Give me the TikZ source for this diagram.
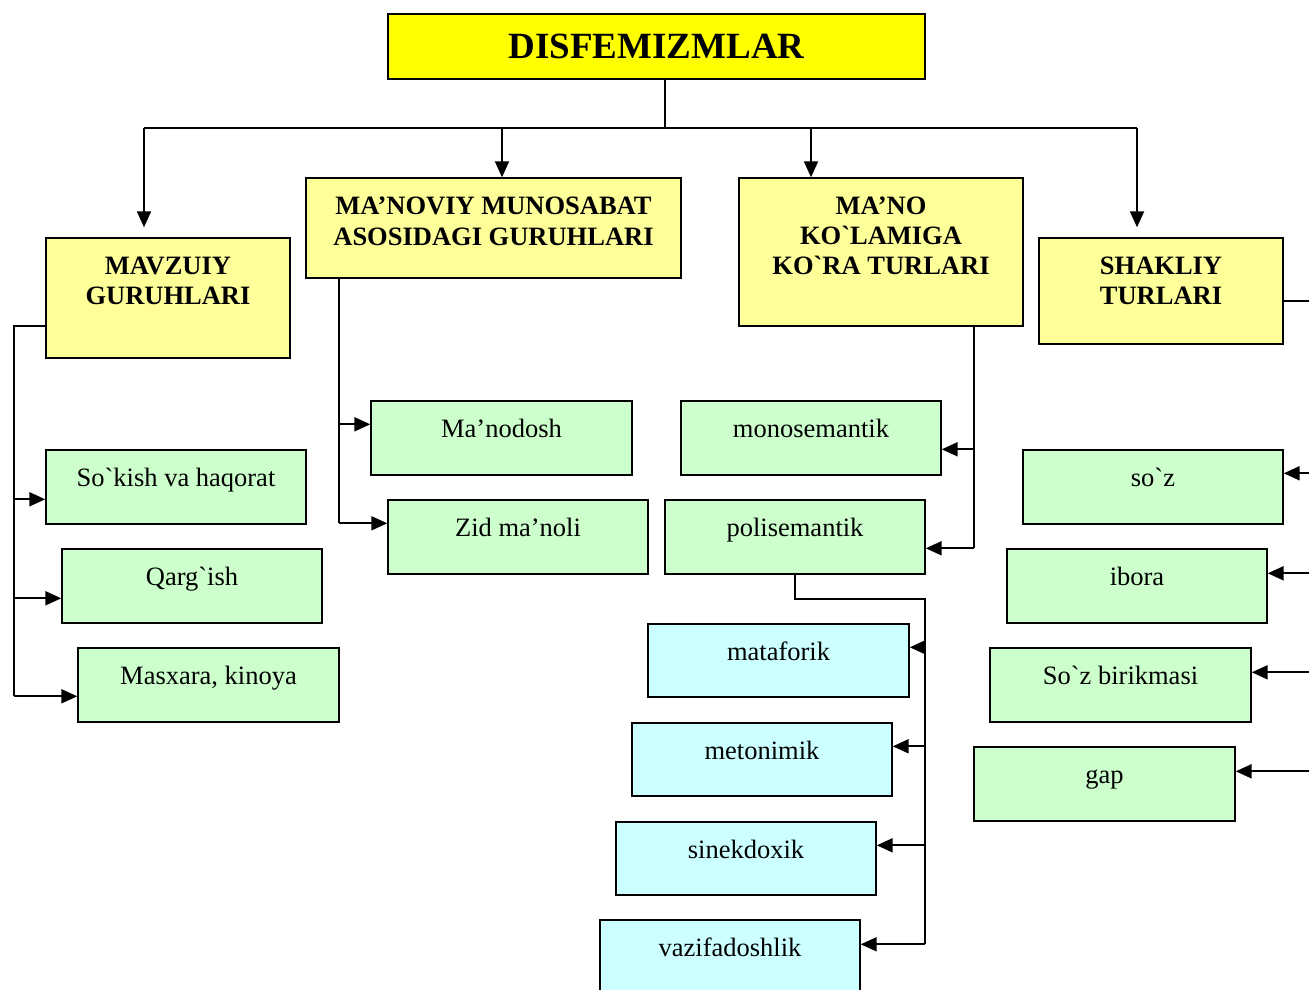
\documentclass[tikz,border=0pt]{standalone}
\usepackage{fontspec}
\setmainfont{Liberation Serif}[Ligatures=TeXOff]
\usetikzlibrary{arrows.meta,fit}
\definecolor{ttl}{HTML}{FFFF00}
\definecolor{ylw}{HTML}{FFFF99}
\definecolor{grn}{HTML}{CCFFCC}
\definecolor{cyn}{HTML}{CCFFFF}
\begin{document}
\begin{tikzpicture}[x=1pt,y=-1pt,
 box/.style={draw=black, line width=1.4pt, inner sep=0pt},
 conn/.style={draw=black, line width=2pt},
 arr/.style={conn, -{Triangle[length=16pt,width=14pt]}},
 txt/.style={font=\fontsize{26.5}{31}\selectfont, anchor=base, inner sep=0pt},
 htxt/.style={font=\bfseries\fontsize{26.5}{31}\selectfont, anchor=base, inner sep=0pt},
 ttxt/.style={font=\bfseries\fontsize{37}{40}\selectfont, anchor=base, inner sep=0pt}]
\useasboundingbox (0,0) rectangle (1309,990);
% boxes
\node[box, fill=ttl, fit={(388,14) (925,79)}] (title) {};
\node[box, fill=ylw, fit={(46,238) (290,358)}] (mavz) {};
\node[box, fill=ylw, fit={(306,178) (681,278)}] (manov) {};
\node[box, fill=ylw, fit={(739,178) (1023,326)}] (mano) {};
\node[box, fill=ylw, fit={(1039,238) (1283,344)}] (shakl) {};
\node[box, fill=grn, fit={(46,450) (306,524)}] (sokish) {};
\node[box, fill=grn, fit={(62,549) (322,623)}] (qarg) {};
\node[box, fill=grn, fit={(78,648) (339,722)}] (masx) {};
\node[box, fill=grn, fit={(371,401) (632,475)}] (manod) {};
\node[box, fill=grn, fit={(388,500) (648,574)}] (zid) {};
\node[box, fill=grn, fit={(681,401) (941,475)}] (mono) {};
\node[box, fill=grn, fit={(665,500) (925,574)}] (poli) {};
\node[box, fill=grn, fit={(1023,450) (1283,524)}] (soz) {};
\node[box, fill=grn, fit={(1007,549) (1267,623)}] (ibora) {};
\node[box, fill=grn, fit={(990,648) (1251,722)}] (birik) {};
\node[box, fill=grn, fit={(974,747) (1235,821)}] (gap) {};
\node[box, fill=cyn, fit={(648,624) (909,697)}] (mataf) {};
\node[box, fill=cyn, fit={(632,723) (892,796)}] (meton) {};
\node[box, fill=cyn, fit={(616,822) (876,895)}] (sinek) {};
\node[box, fill=cyn, fit={(600,920) (860,1005)}] (vazif) {};
% texts
\node[ttxt] (title-t) at ([yshift=-45pt]title.north) {DISFEMIZMLAR};
\node[htxt] (mavz-t1) at ([yshift=-37pt]mavz.north) {MAVZUIY};
\node[htxt] (mavz-t2) at ([yshift=-67pt]mavz.north) {GURUHLARI};
\node[htxt] (manov-t1) at ([yshift=-37pt]manov.north) {MA’NOVIY MUNOSABAT};
\node[htxt] (manov-t2) at ([yshift=-68pt]manov.north) {ASOSIDAGI GURUHLARI};
\node[htxt] (mano-t1) at ([yshift=-37pt]mano.north) {MA’NO};
\node[htxt] (mano-t2) at ([yshift=-67pt]mano.north) {KO`LAMIGA};
\node[htxt] (mano-t3) at ([yshift=-97pt]mano.north) {KO`RA TURLARI};
\node[htxt] (shakl-t1) at ([yshift=-37pt]shakl.north) {SHAKLIY};
\node[htxt] (shakl-t2) at ([yshift=-67pt]shakl.north) {TURLARI};
\node[txt] (sokish-t) at ([yshift=-37pt]sokish.north) {So`kish va haqorat};
\node[txt] (qarg-t) at ([yshift=-37pt]qarg.north) {Qarg`ish};
\node[txt] (masx-t) at ([yshift=-37pt]masx.north) {Masxara, kinoya};
\node[txt] (manod-t) at ([yshift=-37pt]manod.north) {Ma’nodosh};
\node[txt] (zid-t) at ([yshift=-37pt]zid.north) {Zid ma’noli};
\node[txt] (mono-t) at ([yshift=-37pt]mono.north) {monosemantik};
\node[txt] (poli-t) at ([yshift=-37pt]poli.north) {polisemantik};
\node[txt] (soz-t) at ([yshift=-37pt]soz.north) {so`z};
\node[txt] (ibora-t) at ([yshift=-37pt]ibora.north) {ibora};
\node[txt] (birik-t) at ([yshift=-37pt]birik.north) {So`z birikmasi};
\node[txt] (gap-t) at ([yshift=-37pt]gap.north) {gap};
\node[txt] (mataf-t) at ([yshift=-37pt]mataf.north) {mataforik};
\node[txt] (meton-t) at ([yshift=-37pt]meton.north) {metonimik};
\node[txt] (sinek-t) at ([yshift=-37pt]sinek.north) {sinekdoxik};
\node[txt] (vazif-t) at ([yshift=-37pt]vazif.north) {vazifadoshlik};
% top tree
\coordinate (hub) at (665,128);
\coordinate (hubL) at (144,128);
\coordinate (hubR) at (1137,128);
\draw[conn] (title.south -| hub) -- (hub);
\draw[conn] (hubL) -- (hubR);
\draw[arr] (hubL) -- ([xshift=-24pt,yshift=10pt]mavz.north);
\draw[arr] (manov.north -| 502,0) ++(0,-50) -- ([xshift=8.5pt]manov.north);
\draw[arr] (mano.north -| 811,0) ++(0,-50) -- ([xshift=-70pt]mano.north);
\draw[arr] (hubR) -- ([xshift=-24pt,yshift=10pt]shakl.north);
% arrow target points
\coordinate (aSok) at ([yshift=-50pt]sokish.north west);
\coordinate (aQarg) at ([yshift=-50pt]qarg.north west);
\coordinate (aMasx) at ([yshift=-49pt]masx.north west);
\coordinate (aManod) at ([yshift=-24pt]manod.north west);
\coordinate (aZid) at ([yshift=-24pt]zid.north west);
\coordinate (aMono) at ([yshift=-49pt]mono.north east);
\coordinate (aPoli) at ([yshift=-49pt]poli.north east);
\coordinate (aMataf) at ([yshift=-24pt]mataf.north east);
\coordinate (aMeton) at ([yshift=-24pt]meton.north east);
\coordinate (aSinek) at ([yshift=-24pt]sinek.north east);
\coordinate (aVazif) at ([yshift=-25pt]vazif.north east);
\coordinate (aSoz) at ([yshift=-24pt]soz.north east);
\coordinate (aIbora) at ([yshift=-25pt]ibora.north east);
\coordinate (aBirik) at ([yshift=-25pt]birik.north east);
\coordinate (aGap) at ([yshift=-25pt]gap.north east);
% buses
\coordinate (busL) at (14,326);
\coordinate (busM) at (339,278);
\coordinate (busN) at (974,326);
\coordinate (busP) at (925,599);
\coordinate (busR) at (1325,301);
% MAVZUIY
\draw[conn] (mavz.west |- busL) -- (busL) -- (busL |- aMasx);
\draw[arr] (busL |- aSok) -- (aSok);
\draw[arr] (busL |- aQarg) -- (aQarg);
\draw[arr] (busL |- aMasx) -- (aMasx);
% MA'NOVIY
\draw[conn] (busM) -- (busM |- aZid);
\draw[arr] (busM |- aManod) -- (aManod);
\draw[arr] (busM |- aZid) -- (aZid);
% MA'NO
\draw[conn] (busN) -- (busN |- aPoli);
\draw[arr] (busN |- aMono) -- (aMono);
\draw[arr] (busN |- aPoli) -- (aPoli);
% polisemantik
\draw[conn] (poli.south) |- (busP) -- (busP |- aVazif);
\draw[arr] (busP |- aMataf) -- (aMataf);
\draw[arr] (busP |- aMeton) -- (aMeton);
\draw[arr] (busP |- aSinek) -- (aSinek);
\draw[arr] (busP |- aVazif) -- (aVazif);
% SHAKLIY
\draw[conn] (shakl.east |- busR) -- (busR) -- (busR |- aGap);
\draw[arr] (busR |- aSoz) -- (aSoz);
\draw[arr] (busR |- aIbora) -- (aIbora);
\draw[arr] (busR |- aBirik) -- (aBirik);
\draw[arr] (busR |- aGap) -- (aGap);
\end{tikzpicture}
\end{document}
